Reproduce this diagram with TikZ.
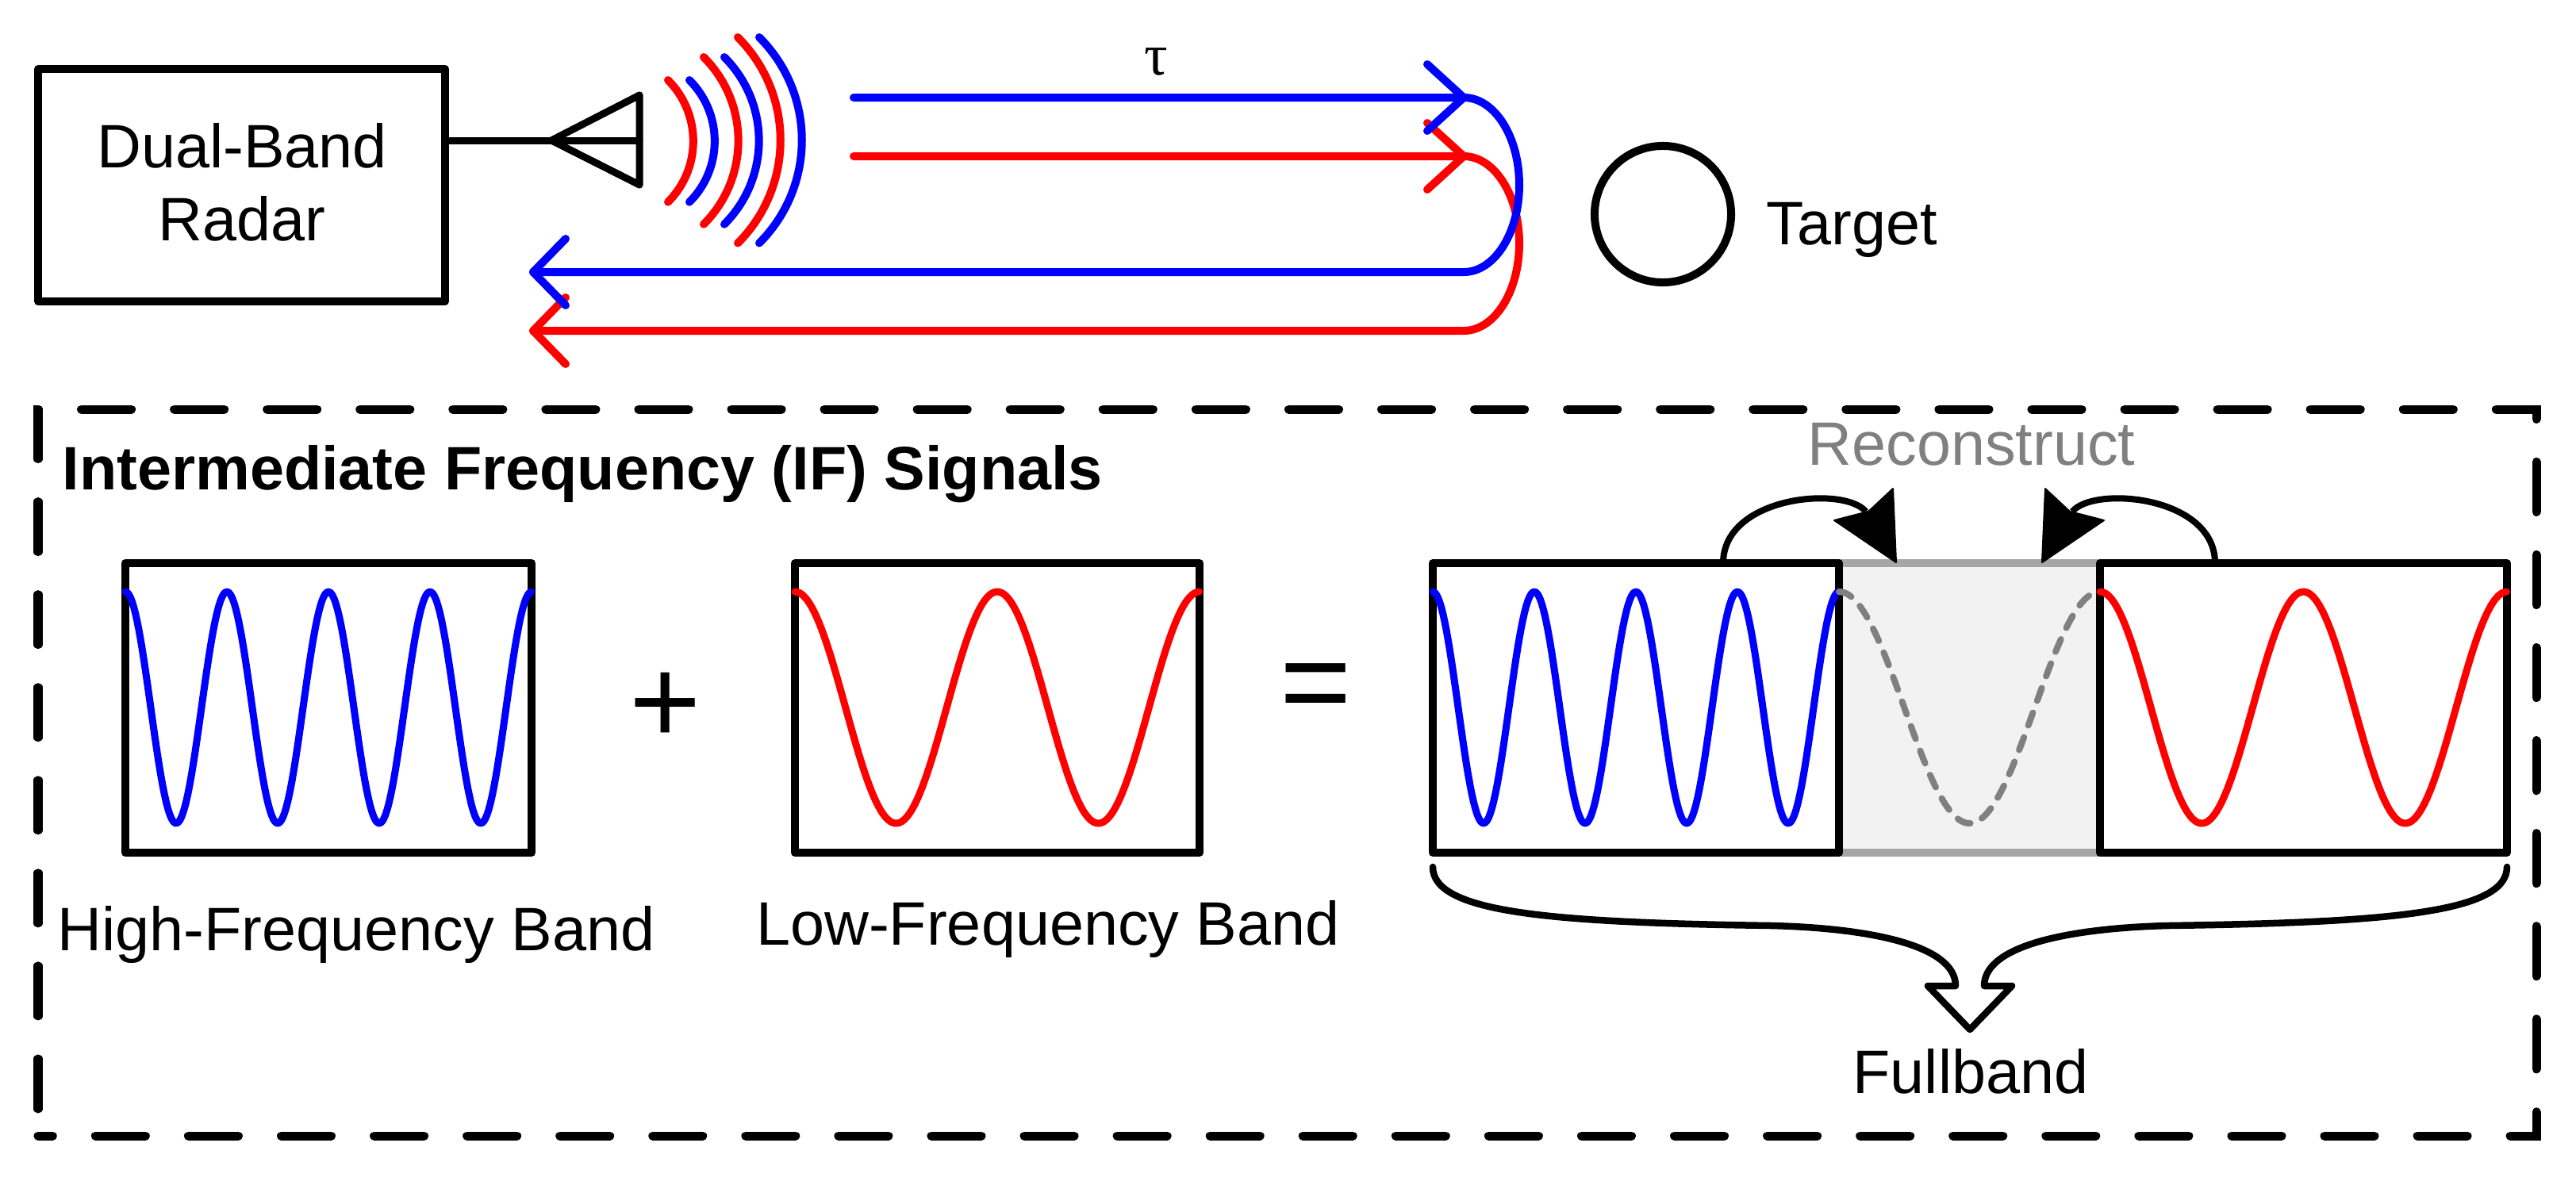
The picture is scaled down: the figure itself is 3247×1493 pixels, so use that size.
\documentclass[tikz,border=0pt]{standalone}
\usepackage{fontspec}
\setmainfont{Liberation Sans}
\newfontfamily\taufont{Liberation Serif}
\definecolor{sigblue}{RGB}{0,0,255}
\definecolor{sigred}{RGB}{255,0,0}
\definecolor{midgray}{RGB}{128,128,128}
\definecolor{bandgray}{RGB}{166,166,166}
\definecolor{fillgray}{RGB}{242,242,242}
\begin{document}
\begin{tikzpicture}[x=0.01cm, y=-0.01cm,
  txt/.style={font=\fontsize{22}{26}\selectfont, inner sep=0pt},
  bigsym/.style={font=\fontsize{44}{50}\selectfont, inner sep=0pt},
  box/.style={draw=black, line width=0.1cm, line join=round},
  thinbox/.style={draw=black, line width=0.09cm, line join=round, line cap=round},
  sig/.style={line width=0.1cm, line cap=round, line join=round},
  wave/.style={line width=0.09cm, line cap=round, line join=round},
  headfill/.style={fill=black, draw=black, line width=0.02cm, line join=round},
]
\fill[white] (0,0) rectangle (3247,1493);
\useasboundingbox (0,0) rectangle (3247,1493);

% ---------- radar ----------
\draw[box] (48,87) rectangle (561,380);
\node[txt, anchor=base] (dual) at (305,211) {Dual-Band};
\node[txt, anchor=base] (radar) at (305,303) {Radar};
\coordinate (feed) at (561,177);
\coordinate (ant) at (806,177);
\draw[thinbox] (feed) -- (ant);
\draw[thinbox] (806,120) -- (695,177) -- (806,233) -- cycle;

% radiated waves
\draw[sig, sigred]  (842,101) arc[start angle=-45, end angle=45, radius=108.7];
\draw[sig, sigblue] (869,101) arc[start angle=-45, end angle=45, radius=108.7];
\draw[sig, sigred]  (887,72)  arc[start angle=-45, end angle=45, radius=149];
\draw[sig, sigblue] (913,72)  arc[start angle=-45, end angle=45, radius=149];
\draw[sig, sigred]  (930,47)  arc[start angle=-45, end angle=45, radius=183.5];
\draw[sig, sigblue] (957,47)  arc[start angle=-45, end angle=45, radius=183.5];

% signal paths (red first, blue on top)
\draw[sig, sigred] (1076,197) -- (1845,197) arc[start angle=-90, end angle=90, x radius=70, y radius=110] -- (672,417);
\draw[sig, sigred] (1799,155) -- (1845,197) -- (1799,239);
\draw[sig, sigred] (713,375) -- (672,417) -- (713,459);
\draw[sig, sigblue] (1076,123) -- (1845,123) arc[start angle=-90, end angle=90, x radius=70, y radius=110] -- (672,343);
\draw[sig, sigblue] (1799,81) -- (1845,123) -- (1799,165);
\draw[sig, sigblue] (713,301) -- (672,343) -- (713,385);
\node[inner sep=0pt, font=\taufont\fontsize{21}{22}\selectfont] (tau) at (1457,78) {τ};

% target
\node[draw, circle, line width=0.1cm, minimum size=1.72cm, inner sep=0pt] (target) at (2096,270) {};
\node[txt, anchor=base west] (targetlbl) at (2226,308) {Target};

% ---------- IF frame ----------
\draw[line width=0.11cm, line cap=round, dash pattern=on 0.63cm off 0.54cm, dash phase=0.83cm]
  (48,1432) -- (48,516) -- (3197,516) -- (3197,1432) -- cycle;
\node[font=\fontsize{22}{26}\selectfont\bfseries, inner sep=0pt, anchor=base west] (iftitle) at (78,617) {Intermediate Frequency (IF) Signals};

% high band
\draw[box] (158,710) rectangle (670,1075);
\draw[wave, sigblue] plot[domain=0:1, samples=240, variable=\t] ({158+512*\t},{892-146*cos(1440*\t)});
\node[txt, anchor=base] (hflbl) at (449,1198) {High-Frequency Band};
\node[bigsym] (plus) at (839,893) {+};

% low band
\draw[box] (1002,710) rectangle (1512,1075);
\draw[wave, sigred] plot[domain=0:1, samples=200, variable=\t] ({1002+510*\t},{892-146*cos(720*\t)});
\node[txt, anchor=base] (lflbl) at (1321,1191) {Low-Frequency Band};
\node[bigsym] (eq) at (1659,875) {=};

% fullband
\fill[fillgray] (2318,710) rectangle (2647,1075);
\draw[line width=0.1cm, bandgray] (2318,710) -- (2647,710) (2318,1075) -- (2647,1075);
\draw[box] (1806,710) rectangle (2318,1075);
\draw[box] (2647,710) rectangle (3160,1075);
\draw[wave, sigblue] plot[domain=0:1, samples=240, variable=\t] ({1806+512*\t},{892-146*cos(1440*\t)});
\draw[wave, sigred] plot[domain=0:1, samples=200, variable=\t] ({2647+513*\t},{892-146*cos(720*\t)});
\draw[line width=0.08cm, midgray, line cap=round, dash pattern=on 0.17cm off 0.16cm]
  plot[domain=0:1, samples=120, variable=\t] ({2318+329*\t},{892-146*cos(360*\t)});

% reconstruct arrows
\node[txt, text=midgray, anchor=base] (recon) at (2485,586) {Reconstruct};
\coordinate (lstart) at (2172,710);
\coordinate (lnotch) at (2352,645);
\draw[line width=0.08cm] (lstart) .. controls (2172,625) and (2325,612) .. (lnotch);
\draw[headfill] (2390,709) -- (2312,656) .. controls (2335,650) .. (2355,645) .. controls (2370,630) .. (2386,616) -- cycle;
\coordinate (rstart) at (2792,710);
\coordinate (rnotch) at (2612,645);
\draw[line width=0.08cm] (rstart) .. controls (2792,625) and (2639,612) .. (rnotch);
\draw[headfill] (2574,709) -- (2652,656) .. controls (2629,650) .. (2609,645) .. controls (2594,630) .. (2578,616) -- cycle;

% brace arrow
\draw[line width=0.085cm, line join=round, line cap=round]
  (1806,1093) .. controls (1806,1150) and (1950,1163) .. (2233,1167)
  .. controls (2350,1170) and (2465,1190) .. (2465,1243)
  -- (2430,1243) -- (2483,1298) -- (2536,1243) -- (2501,1243)
  .. controls (2501,1190) and (2616,1170) .. (2733,1167)
  .. controls (3016,1163) and (3160,1150) .. (3160,1093);
\node[txt, anchor=base] (full) at (2484,1378) {Fullband};
\end{tikzpicture}
\end{document}
